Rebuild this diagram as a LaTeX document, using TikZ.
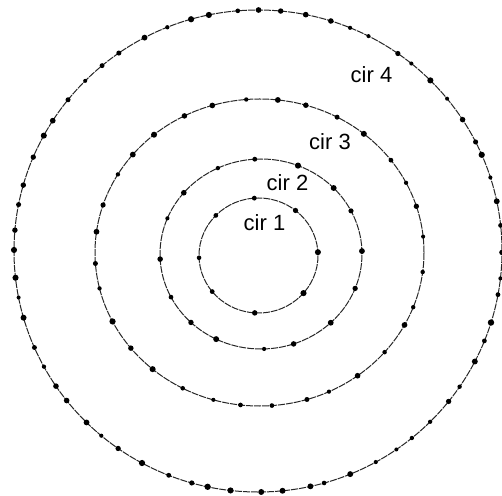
\documentclass[tikz,border=0pt]{standalone}
\usepackage{fontspec}
\setsansfont{Liberation Sans}

\begin{document}
\begin{tikzpicture}[
	x=1pt, y=1pt,
	font=\sffamily\fontsize{22}{25}\selectfont,
	ring/.style={draw, black!85, line width=1pt, dash pattern=on 7pt off 1pt},
	bead/.style={fill=black},
	cirname/.style={anchor=base, inner sep=0pt}
	]
	
	% Frame
	\clip (0,0) rectangle (502,495);
	\pgfmathsetseed{11}
	
	% Rings with their beads (8, 16, 32, 64)
	\foreach \n/\cx/\cy/\rx/\ry/\cnt/\off in {
		1/258.5/239.5/59.5/57.5/8/0,
		2/261/241/101/95/16/0,
		3/259.5/242.5/164.5/153.5/32/4,
		4/258/244/244/241/64/0}
	{
		\coordinate (o\n) at (\cx,\cy);
		\draw[ring] (o\n) ellipse [x radius=\rx, y radius=\ry];
		\pgfmathsetmacro\gap{360/\cnt}
		\foreach \k in {1,...,\cnt} {
			\pgfmathsetmacro\ang{\off+\k*\gap+0.22*rand*\gap}
			\pgfmathsetmacro\px{\cx+\rx*cos(\ang)}
			\pgfmathsetmacro\py{\cy+\ry*sin(\ang)}
			\pgfmathsetmacro\dotr{2.6+0.6*rand}
			\fill[bead] (\px,\py) circle[radius=\dotr];
		}
	}
	
	% Labels
	\node[cirname] (lab1) at (264.5,264) {cir 1};
	\node[cirname] (lab2) at (287.5,304.5) {cir 2};
	\node[cirname] (lab3) at (330,345) {cir 3};
	\node[cirname] (lab4) at (371.5,412.5) {cir 4};
	
\end{tikzpicture}
\end{document}
